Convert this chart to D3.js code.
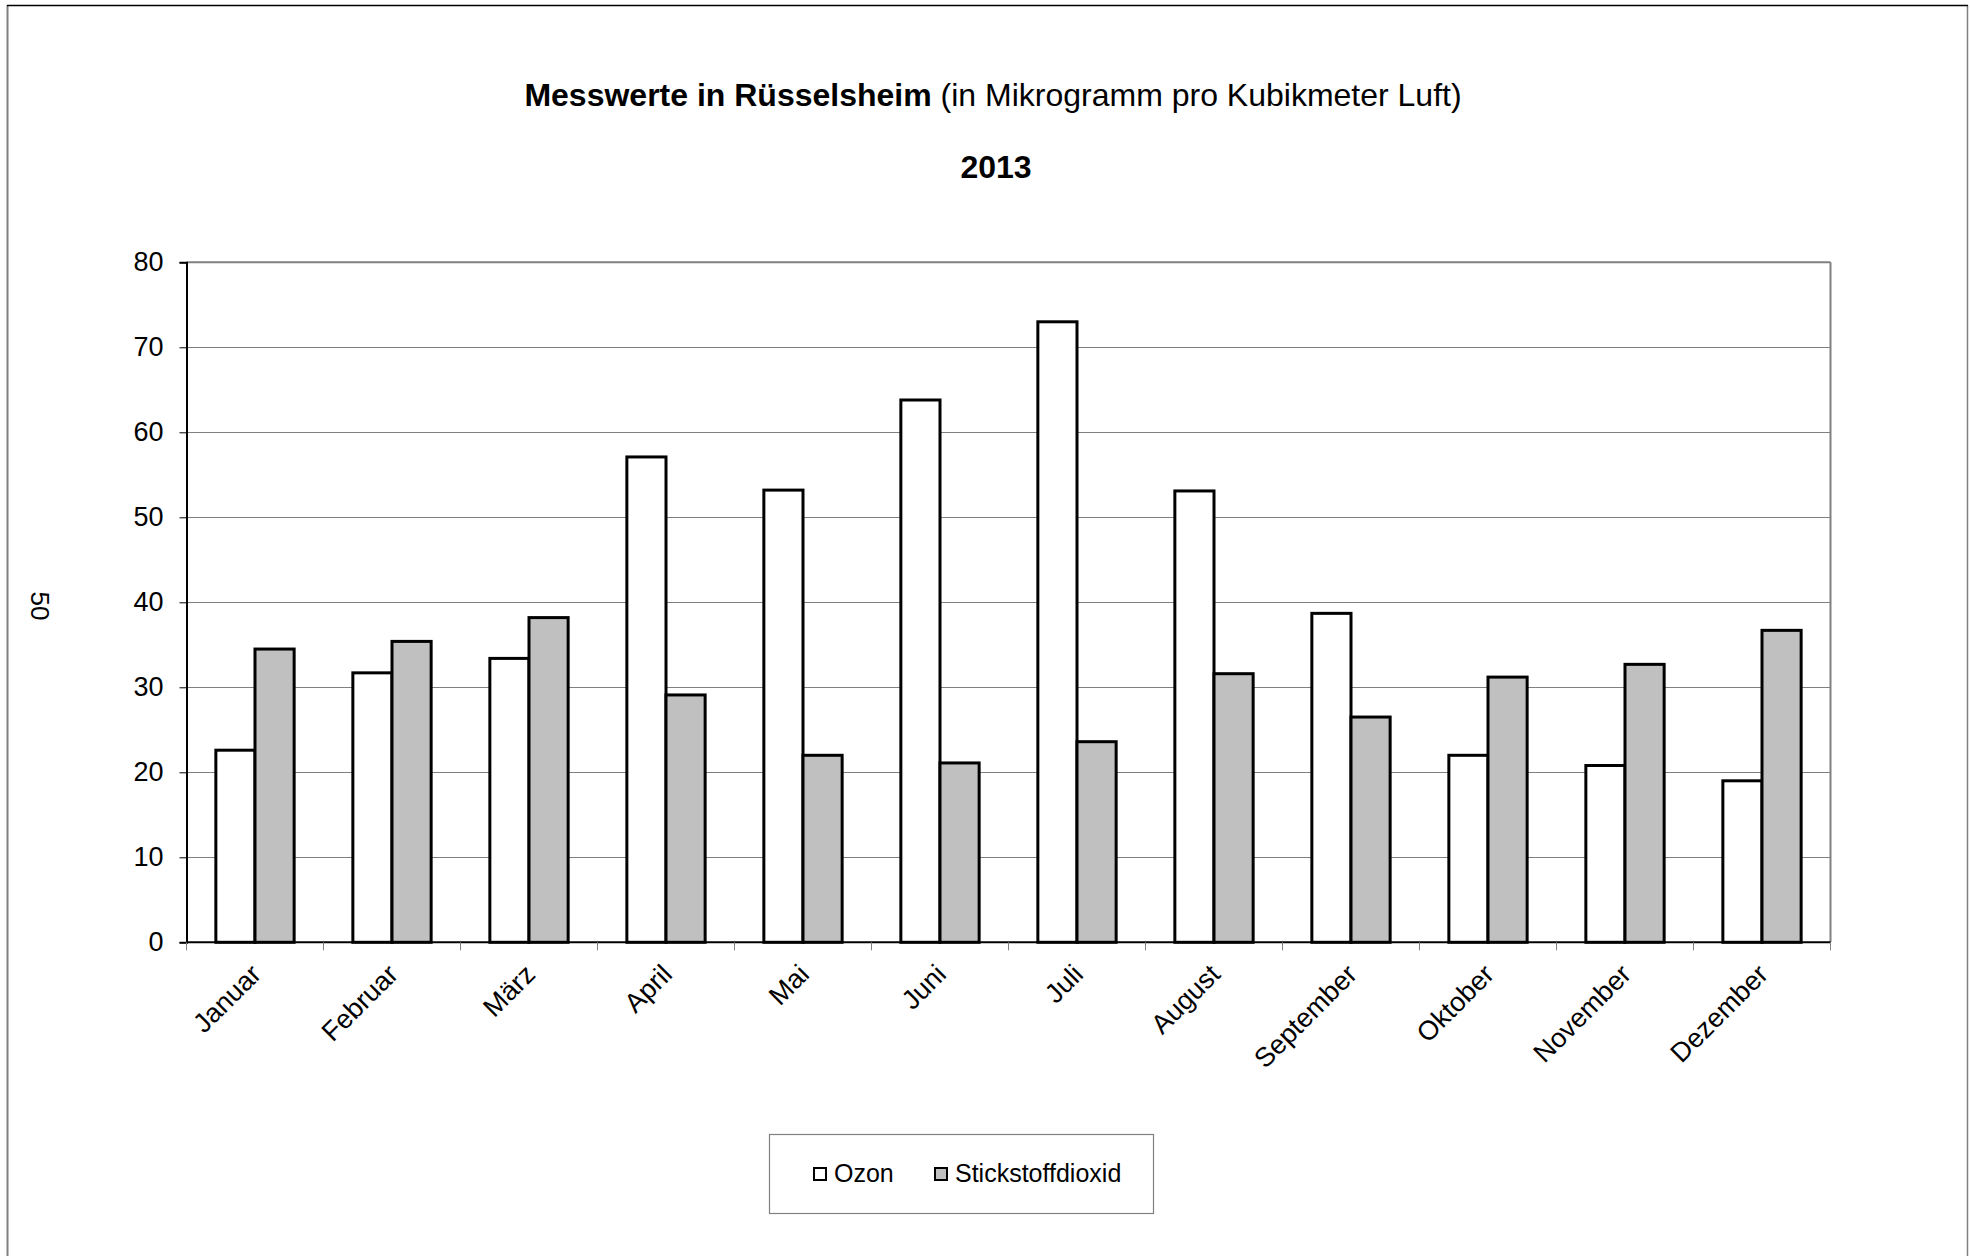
<!DOCTYPE html>
<html>
<head>
<meta charset="utf-8">
<script src="https://cdn.jsdelivr.net/npm/d3@7"></script>
<style>
  html, body { margin: 0; padding: 0; background: #fff; }
  svg { display: block; font-family: "Liberation Sans", Arial, sans-serif; }
</style>
</head>
<body>
<svg id="chart" width="1970" height="1256"></svg>
<script>
// Monthly mean concentrations, Rüsselsheim 2013 (µg/m³)
const months = ["Januar", "Februar", "März", "April", "Mai", "Juni",
                "Juli", "August", "September", "Oktober", "November", "Dezember"];
const ozon = [22.6, 31.7, 33.4, 57.1, 53.2, 63.8, 73.0, 53.1, 38.7, 22.0, 20.8, 19.0];
const stickstoffdioxid = [34.5, 35.4, 38.2, 29.1, 22.0, 21.1, 23.6, 31.6, 26.5, 31.2, 32.7, 36.7];
const seriesNames = ["Ozon", "Stickstoffdioxid"];
const seriesFill = ["#ffffff", "#c0c0c0"];
const yTicks = [0, 10, 20, 30, 40, 50, 60, 70, 80];

const svg = d3.select("#chart");
const W = 1970, H = 1256;
const plot = { left: 186.5, right: 1830.5, top: 262.3, bottom: 942.3 };

// page frame
svg.append("rect").attr("x", 0).attr("y", 0).attr("width", W).attr("height", H).attr("fill", "#fff");
svg.append("line").attr("x1", 7.5).attr("x2", 7.5).attr("y1", 5).attr("y2", H + 5)
  .attr("stroke", "#808080").attr("stroke-width", 2);
svg.append("line").attr("x1", 1967.5).attr("x2", 1967.5).attr("y1", 5).attr("y2", H + 5)
  .attr("stroke", "#808080").attr("stroke-width", 1.5);
svg.append("line").attr("x1", 7).attr("x2", 1968).attr("y1", 5.5).attr("y2", 5.5)
  .attr("stroke", "#000").attr("stroke-width", 1.5);

// titles
const title = svg.append("text").attr("x", 993).attr("y", 106)
  .attr("text-anchor", "middle").attr("font-size", 32).attr("fill", "#000");
title.append("tspan").attr("font-weight", "bold").text("Messwerte in Rüsselsheim");
title.append("tspan").text(" (in Mikrogramm pro Kubikmeter Luft)");
svg.append("text").attr("x", 996).attr("y", 178).attr("text-anchor", "middle")
  .attr("font-size", 32).attr("font-weight", "bold").text("2013");

// page number in margin
svg.append("text").attr("transform", "translate(31,606) rotate(90)")
  .attr("text-anchor", "middle").attr("font-size", 26).text("50");

// scales
const x0 = d3.scaleBand().domain(months).range([plot.left, plot.right]).paddingInner(0).paddingOuter(0);
const x1 = d3.scaleBand().domain(seriesNames).range([0, x0.bandwidth()]).paddingInner(0).paddingOuter(0.75);
const y = d3.scaleLinear().domain([0, 80]).range([plot.bottom, plot.top]);

// gridlines
svg.append("g").selectAll("line").data(yTicks.filter(t => t > 0 && t < 80)).join("line")
  .attr("x1", plot.left).attr("x2", plot.right)
  .attr("y1", d => Math.round(y(d)) + 0.5).attr("y2", d => Math.round(y(d)) + 0.5)
  .attr("stroke", "#808080").attr("stroke-width", 1);

// plot frame top / right
svg.append("line").attr("x1", plot.left).attr("x2", plot.right)
  .attr("y1", y(80)).attr("y2", y(80)).attr("stroke", "#808080").attr("stroke-width", 2);
svg.append("line").attr("x1", plot.right).attr("x2", plot.right)
  .attr("y1", plot.top).attr("y2", plot.bottom).attr("stroke", "#808080").attr("stroke-width", 2);

// bars
const rows = months.map((m, i) => ({ month: m, values: [ozon[i], stickstoffdioxid[i]] }));
const groups = svg.append("g").selectAll("g").data(rows).join("g")
  .attr("transform", d => `translate(${x0(d.month)},0)`);
groups.selectAll("rect").data(d => d.values.map((v, k) => ({ key: seriesNames[k], k, v }))).join("rect")
  .attr("x", d => x1(d.key))
  .attr("width", x1.bandwidth())
  .attr("y", d => y(d.v))
  .attr("height", d => y(0) - y(d.v))
  .attr("fill", d => seriesFill[d.k])
  .attr("stroke", "#000").attr("stroke-width", 3);

// y axis
const yAxis = d3.axisLeft(y).tickValues(yTicks).tickSize(7).tickPadding(16).tickFormat(d3.format("d"));
const gy = svg.append("g").attr("transform", `translate(${plot.left},0)`).call(yAxis);
gy.select(".domain").attr("stroke", "#000").attr("stroke-width", 2);
gy.selectAll(".tick line").attr("stroke", "#000").attr("stroke-width", 1);
gy.selectAll(".tick text").attr("font-size", 27).attr("fill", "#000")
  .attr("font-family", "Liberation Sans, Arial, sans-serif");

// x axis: baseline, boundary ticks, rotated labels
svg.append("line").attr("x1", plot.left).attr("x2", plot.right)
  .attr("y1", plot.bottom).attr("y2", plot.bottom).attr("stroke", "#000").attr("stroke-width", 2);
const bounds = months.map(m => x0(m)).concat([plot.right]);
svg.append("g").selectAll("line").data(bounds).join("line")
  .attr("x1", d => d).attr("x2", d => d)
  .attr("y1", plot.bottom).attr("y2", plot.bottom + 8)
  .attr("stroke", "#808080").attr("stroke-width", 1);
svg.append("g").selectAll("text").data(months).join("text")
  .attr("transform", d => `translate(${x0(d) + x0.bandwidth() / 2 + 1},${plot.bottom + 27}) rotate(-45)`)
  .attr("text-anchor", "end").attr("dy", "0.35em")
  .attr("font-size", 27).attr("fill", "#000").text(d => d);

// legend
const lg = svg.append("g");
lg.append("rect").attr("x", 769.5).attr("y", 1134.5).attr("width", 384).attr("height", 79)
  .attr("fill", "#fff").attr("stroke", "#808080").attr("stroke-width", 1.2);
const legendX = [814, 935];
const li = lg.selectAll("g").data(seriesNames).join("g")
  .attr("transform", (d, i) => `translate(${legendX[i]},0)`);
li.append("rect").attr("x", 0).attr("y", 1168).attr("width", 12).attr("height", 12)
  .attr("fill", (d, i) => seriesFill[i]).attr("stroke", "#000").attr("stroke-width", 2);
li.append("text").attr("x", 20).attr("y", 1182).attr("font-size", 25).attr("fill", "#000").text(d => d);
</script>
</body>
</html>
